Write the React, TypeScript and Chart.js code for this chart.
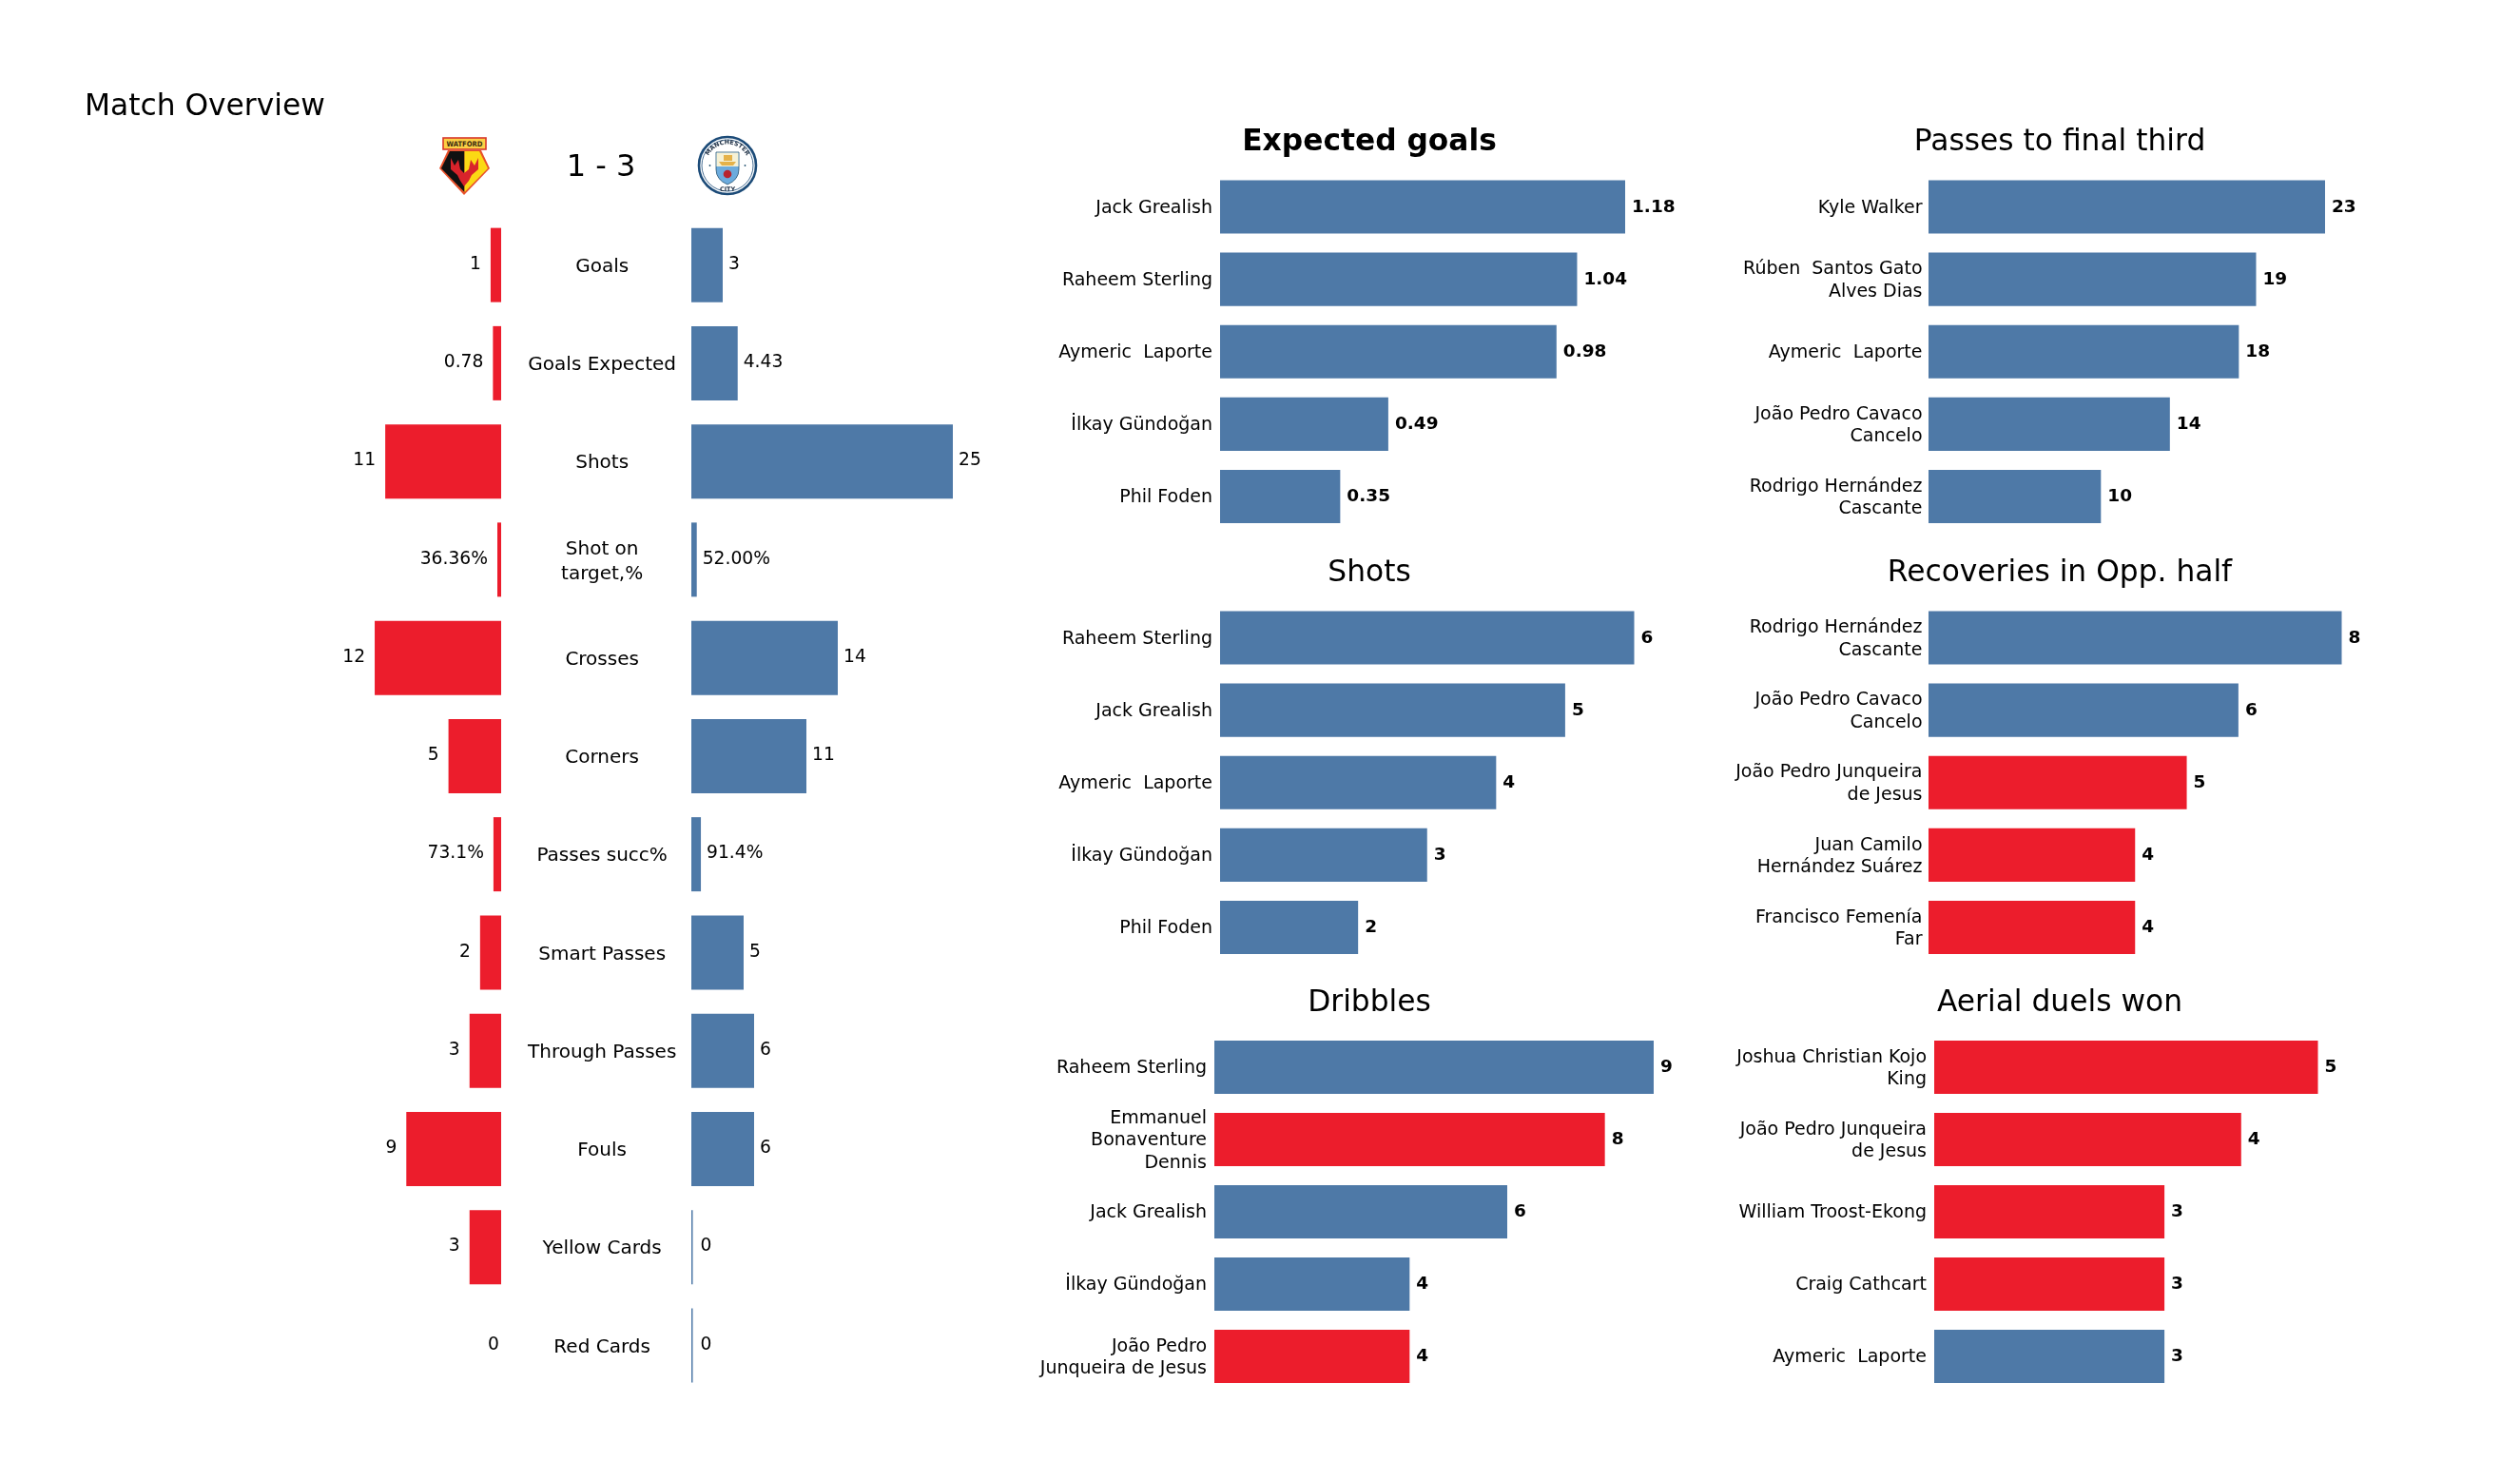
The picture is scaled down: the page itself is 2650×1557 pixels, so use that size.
import React, { useEffect, useRef } from "react";
import { Chart, registerables } from "chart.js";

Chart.register(...registerables);
Chart.defaults.font.family = "'DejaVu Sans'";
Chart.defaults.color = "#000";

// ---------- data ----------
const matchCategories = [
  "Goals", "Goals Expected", "Shots", ["Shot on", "target,%"], "Crosses", "Corners",
  "Passes succ%", "Smart Passes", "Through Passes", "Fouls", "Yellow Cards", "Red Cards",
];
const homeValues = [1, 0.78, 11, 0.3636, 12, 5, 0.731, 2, 3, 9, 3, 0];
const awayValues = [3, 4.43, 25, 0.52, 14, 11, 0.914, 5, 6, 6, 0, 0];
const homeLabels = ["1", "0.78", "11", "36.36%", "12", "5", "73.1%", "2", "3", "9", "3", "0"];
const awayLabels = ["3", "4.43", "25", "52.00%", "14", "11", "91.4%", "5", "6", "6", "0", "0"];
const homeGoals = 1;
const awayGoals = 3;

const xgNames = ["Jack Grealish", "Raheem Sterling", "Aymeric  Laporte", "İlkay Gündoğan", "Phil Foden"];
const xgValues = [1.18, 1.04, 0.98, 0.49, 0.35];
const xgLabels = ["1.18", "1.04", "0.98", "0.49", "0.35"];
const xgTeams = ["a", "a", "a", "a", "a"];

const shotNames = ["Raheem Sterling", "Jack Grealish", "Aymeric  Laporte", "İlkay Gündoğan", "Phil Foden"];
const shotValues = [6, 5, 4, 3, 2];
const shotTeams = ["a", "a", "a", "a", "a"];

const dribbleNames = ["Raheem Sterling", ["Emmanuel", "Bonaventure", "Dennis"], "Jack Grealish", "İlkay Gündoğan", ["João Pedro", "Junqueira de Jesus"]];
const dribbleValues = [9, 8, 6, 4, 4];
const dribbleTeams = ["a", "h", "a", "a", "h"];

const finalThirdNames = ["Kyle Walker", ["Rúben  Santos Gato", "Alves Dias"], "Aymeric  Laporte", ["João Pedro Cavaco", "Cancelo"], ["Rodrigo Hernández", "Cascante"]];
const finalThirdValues = [23, 19, 18, 14, 10];
const finalThirdTeams = ["a", "a", "a", "a", "a"];

const recoveryNames = [["Rodrigo Hernández", "Cascante"], ["João Pedro Cavaco", "Cancelo"], ["João Pedro Junqueira", "de Jesus"], ["Juan Camilo", "Hernández Suárez"], ["Francisco Femenía", "Far"]];
const recoveryValues = [8, 6, 5, 4, 4];
const recoveryTeams = ["a", "a", "h", "h", "h"];

const aerialNames = [["Joshua Christian Kojo", "King"], ["João Pedro Junqueira", "de Jesus"], "William Troost-Ekong", "Craig Cathcart", "Aymeric  Laporte"];
const aerialValues = [5, 4, 3, 3, 3];
const aerialTeams = ["h", "h", "h", "h", "a"];

// ---------- styles ----------
const RED = "#EC1D2C";
const BLUE = "#4E79A7";
const teamColor = (t: string) => (t === "h" ? RED : BLUE);

// ---------- layout ----------
const COL1 = { left: 1060, width: 760 };
const COL2 = { left: 1806, width: 720 };
const ROW1 = { titleY: 150, top: 179.5, bottom: 560 };
const ROW2 = { titleY: 603, top: 632.5, bottom: 1013 };
const ROW3 = { titleY: 1055, top: 1084, bottom: 1464 };

const panels = [
  { title: "Expected goals", bold: true, names: xgNames, values: xgValues, labels: xgLabels, teams: xgTeams, col: COL1, row: ROW1, x0: 1283, xEnd: 1709, gap: 8 },
  { title: "Shots", names: shotNames, values: shotValues, labels: shotValues.map(String), teams: shotTeams, col: COL1, row: ROW2, x0: 1283, xEnd: 1718.5, gap: 8 },
  { title: "Dribbles", names: dribbleNames, values: dribbleValues, labels: dribbleValues.map(String), teams: dribbleTeams, col: COL1, row: ROW3, x0: 1277, xEnd: 1739, gap: 8 },
  { title: "Passes to final third", names: finalThirdNames, values: finalThirdValues, labels: finalThirdValues.map(String), teams: finalThirdTeams, col: COL2, row: ROW1, x0: 2028, xEnd: 2445, gap: 6.5 },
  { title: "Recoveries in Opp. half", names: recoveryNames, values: recoveryValues, labels: recoveryValues.map(String), teams: recoveryTeams, col: COL2, row: ROW2, x0: 2028, xEnd: 2462.5, gap: 6.5 },
  { title: "Aerial duels won", names: aerialNames, values: aerialValues, labels: aerialValues.map(String), teams: aerialTeams, col: COL2, row: ROW3, x0: 2034, xEnd: 2437.5, gap: 8 },
];

function valueLabelPlugin(labels: string[], side: "left" | "right", font: string, gap: number, zeroGap: number, dy: number) {
  return {
    id: "valueLabels",
    afterDatasetsDraw(chart: any) {
      const { ctx } = chart;
      const values = chart.data.datasets[0].data;
      ctx.save();
      ctx.font = font;
      ctx.fillStyle = "#000";
      ctx.textBaseline = "middle";
      ctx.textAlign = side === "left" ? "right" : "left";
      chart.getDatasetMeta(0).data.forEach((bar: any, i: number) => {
        const g = values[i] === 0 ? zeroGap : gap;
        ctx.fillText(labels[i], side === "left" ? bar.x - g : bar.x + g, bar.y + dy);
      });
      ctx.restore();
    },
  };
}

function useChart(make: (c: HTMLCanvasElement) => any) {
  const ref = useRef<HTMLCanvasElement>(null);
  useEffect(() => {
    const chart = make(ref.current!);
    return () => chart.destroy();
  }, []);
  return ref;
}

function Panel({ p }: { p: (typeof panels)[number] }) {
  const top = p.row.titleY - 18;
  const height = p.row.bottom - top;
  const maxVal = Math.max(...p.values);
  const xMax = (maxVal * (p.col.left + p.col.width - p.x0)) / (p.xEnd - p.x0);
  const ref = useChart((canvas) =>
    new Chart(canvas, {
      type: "bar",
      data: {
        labels: p.names as any,
        datasets: [{
          data: p.values,
          backgroundColor: p.teams.map(teamColor),
          barPercentage: 56 / 76,
          categoryPercentage: 1,
        }],
      },
      options: {
        indexAxis: "y",
        animation: false,
        responsive: false,
        events: [],
        plugins: {
          legend: { display: false },
          tooltip: { enabled: false },
          title: {
            display: true,
            text: p.title,
            color: "#000",
            font: { size: 31.3, weight: p.bold ? "bold" : "normal", lineHeight: 36 / 31.3 },
            padding: { top: 0, bottom: p.row.top - (p.row.titleY + 18) },
          },
        },
        scales: {
          x: { display: false, min: 0, max: xMax },
          y: {
            afterFit: (s: any) => {
              s.width = p.x0 - p.col.left;
              s.paddingTop = 0;
              s.paddingBottom = 0;
            },
            grid: { display: false, drawTicks: false },
            border: { display: false },
            ticks: { autoSkip: false, color: "#000", padding: p.gap, labelOffset: 1.5, font: { size: 19, lineHeight: 1.24 } },
          },
        },
      },
      plugins: [valueLabelPlugin(p.labels, "right", "bold 18.5px 'DejaVu Sans'", 7, 7, 0.5)],
    } as any)
  );
  return <canvas ref={ref} width={p.col.width} height={height} style={{ position: "absolute", left: p.col.left, top, width: p.col.width, height }} />;
}

const HOME = { left: 89, right: 727, top: 95, bottom: 1466, origin: 527, ppu: 11.08, plotTop: 227, scoreX: 632, scoreY: 177 };
const AWAY = { left: 727, right: 1070, top: 227, bottom: 1466, ppu: 11 };
const ROW_BAR = 78 / 103.25;

function HomeChart() {
  const width = HOME.right - HOME.left;
  const height = HOME.bottom - HOME.top;
  const ref = useChart((canvas) =>
    new Chart(canvas, {
      type: "bar",
      data: {
        labels: matchCategories as any,
        datasets: [{ data: homeValues, backgroundColor: RED, barPercentage: ROW_BAR, categoryPercentage: 1 }],
      },
      options: {
        indexAxis: "y",
        animation: false,
        responsive: false,
        events: [],
        plugins: {
          legend: { display: false },
          tooltip: { enabled: false },
          title: {
            display: true,
            text: "Match Overview",
            align: "start",
            color: "#000",
            font: { size: 31.3, weight: "normal", lineHeight: 36 / 31.3 },
            padding: { top: 0, bottom: HOME.plotTop - HOME.top - 36 },
          },
        },
        scales: {
          x: { display: false, reverse: true, min: 0, max: (HOME.origin - HOME.left) / HOME.ppu },
          y: {
            position: "right",
            afterFit: (s: any) => {
              s.width = HOME.right - HOME.origin;
              s.paddingTop = 0;
              s.paddingBottom = 0;
            },
            grid: { display: false, drawTicks: false },
            border: { display: false },
            ticks: { autoSkip: false, color: "#000", crossAlign: "center", padding: 28, labelOffset: 2, font: { size: 20, lineHeight: 1.3 } },
          },
        },
      },
      plugins: [
        valueLabelPlugin(homeLabels, "left", "18.7px 'DejaVu Sans'", 10, 2, -0.5),
        {
          id: "score",
          afterDraw(chart: any) {
            const { ctx } = chart;
            ctx.save();
            ctx.font = "32px 'DejaVu Sans'";
            ctx.fillStyle = "#000";
            ctx.textAlign = "center";
            ctx.textBaseline = "middle";
            ctx.fillText(`${homeGoals} - ${awayGoals}`, HOME.scoreX - HOME.left, HOME.scoreY - HOME.top);
            ctx.restore();
          },
        },
      ],
    } as any)
  );
  return <canvas ref={ref} width={width} height={height} style={{ position: "absolute", left: HOME.left, top: HOME.top, width, height }} />;
}

function AwayChart() {
  const width = AWAY.right - AWAY.left;
  const height = AWAY.bottom - AWAY.top;
  const ref = useChart((canvas) =>
    new Chart(canvas, {
      type: "bar",
      data: {
        labels: matchCategories as any,
        datasets: [{ data: awayValues, backgroundColor: BLUE, barPercentage: ROW_BAR, categoryPercentage: 1, minBarLength: 1.5 }],
      },
      options: {
        indexAxis: "y",
        animation: false,
        responsive: false,
        events: [],
        plugins: { legend: { display: false }, tooltip: { enabled: false } },
        scales: {
          x: { display: false, min: 0, max: width / AWAY.ppu },
          y: { display: false },
        },
      },
      plugins: [valueLabelPlugin(awayLabels, "right", "18.7px 'DejaVu Sans'", 6, 8, -0.5)],
    } as any)
  );
  return <canvas ref={ref} width={width} height={height} style={{ position: "absolute", left: AWAY.left, top: AWAY.top, width, height }} />;
}

function WatfordCrest() {
  return (
    <svg width={100} height={90} viewBox="0 0 100 90" style={{ position: "absolute", left: 440, top: 130 }}>
      <polygon points="31,28 66,28 75,47 48,75 22,47" fill="#E8502A" />
      <polygon points="33,29 48.5,29 48.5,72 24,47" fill="#111" />
      <polygon points="48.5,29 64,29 73,47 48.5,72" fill="#FBD914" />
      <path d="M34,36 L38,44 L42,38 L44,48 L48,52 L53,48 L55,38 L59,44 L63,36 L63,48 L56,54 L53,60 L48,66 L44,60 L41,54 L34,48 Z" fill="#D9232B" />
      <rect x={26} y={15} width={45} height={12} fill="#FBD045" stroke="#D8382A" strokeWidth={1.6} />
      <text x={48.5} y={24.3} textAnchor="middle" fontFamily="DejaVu Sans" fontWeight="bold" fontSize={7.6} textLength={38} lengthAdjust="spacingAndGlyphs" fill="#3A2A10">WATFORD</text>
    </svg>
  );
}

function CityCrest() {
  return (
    <svg width={100} height={90} viewBox="0 0 100 90" style={{ position: "absolute", left: 720, top: 130 }}>
      <circle cx={45} cy={44} r={30} fill="#fff" stroke="#1C4B78" strokeWidth={2.6} />
      <circle cx={45} cy={44} r={27} fill="none" stroke="#1C4B78" strokeWidth={0.8} />
      <defs>
        <path id="cityTop" d="M22.5,44 a22.5,22.5 0 0 1 45,0" />
      </defs>
      <text fontFamily="DejaVu Sans" fontWeight="bold" fontSize={6.4} fill="#1E2F44">
        <textPath href="#cityTop" startOffset="50%" textAnchor="middle">MANCHESTER</textPath>
      </text>
      <text x={45} y={71} textAnchor="middle" fontFamily="DejaVu Sans" fontWeight="bold" fontSize={6.4} fill="#1E2F44">CITY</text>
      <path d="M33,30 H57 V48 Q57,59 45,64 Q33,59 33,48 Z" fill="#6CABDD" stroke="#23506F" strokeWidth={0.8} />
      <path d="M33.5,30.5 H56.5 V45 H33.5 Z" fill="#F6F1D5" />
      <path d="M36,40 H54 L51,44 H39 Z M41,33 H50 V39 H41 Z" fill="#E5B24A" />
      <circle cx={45} cy={53} r={4.3} fill="#B8242E" />
      <circle cx={26.5} cy={44} r={0.9} fill="#23506F" />
      <circle cx={63.5} cy={44} r={0.9} fill="#23506F" />
    </svg>
  );
}

export default function App() {
  return (
    <div style={{ position: "absolute", left: 0, top: 0, width: 2650, height: 1557, background: "#fff", overflow: "hidden" }}>
      <HomeChart />
      <AwayChart />
      <WatfordCrest />
      <CityCrest />
      {panels.map((p) => <Panel key={p.title} p={p} />)}
    </div>
  );
}
